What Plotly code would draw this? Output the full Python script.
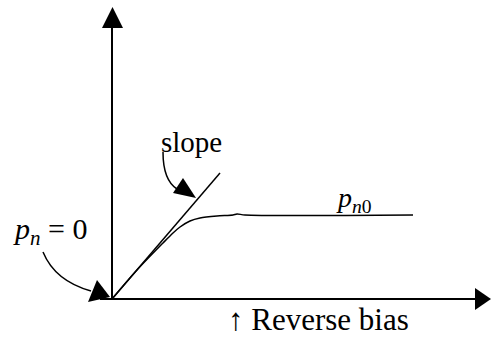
import plotly.graph_objects as go

# Schematic data (units: offsets from origin, y up)
curve_x = [0, 25, 51, 61, 68, 78, 88, 105, 121, 125, 133, 301]
curve_y = [0, 29, 56, 66, 72, 78, 81, 83, 84, 85, 84, 84]
slope_x = [0, 108]
slope_y = [0, 126]

axis_x_end = 363
axis_y_end = 271

labels = ["slope", "<i>p</i><sub><i>n</i></sub> = 0", "<i>p</i><sub><i>n</i>0</sub>", "↑ Reverse bias"]

FONT = "Liberation Serif, Times New Roman, serif"

fig = go.Figure()
fig.add_trace(go.Scatter(x=[-12, axis_x_end], y=[0, 0], mode="lines",
                         line=dict(color="black", width=2), hoverinfo="skip"))
fig.add_trace(go.Scatter(x=[0, 0], y=[0, axis_y_end], mode="lines",
                         line=dict(color="black", width=2), hoverinfo="skip"))
fig.add_trace(go.Scatter(x=slope_x, y=slope_y, mode="lines",
                         line=dict(color="black", width=1.5), hoverinfo="skip"))
fig.add_trace(go.Scatter(x=curve_x, y=curve_y, mode="lines",
                         line=dict(color="black", width=1.5, shape="spline", smoothing=0.8),
                         hoverinfo="skip"))

shapes = [
    # axis arrowheads
    dict(type="path", path="M -10,271 L 11,271 L 0.5,292 Z", fillcolor="black", line=dict(width=0)),
    dict(type="path", path="M 363,11 L 363,-11 L 379,0 Z", fillcolor="black", line=dict(width=0)),
    # slope pointer
    dict(type="path", path="M 51,147 Q 51,119 65,110", line=dict(color="black", width=1.5)),
    dict(type="path", path="M 71,121 L 61,106 L 84,101 Z", fillcolor="black", line=dict(width=0)),
    # p_n = 0 pointer
    dict(type="path", path="M -69,47 Q -57,18 -21,8", line=dict(color="black", width=1.5)),
    dict(type="path", path="M -15,19 L -24,-3 L -2,2 Z", fillcolor="black", line=dict(width=0)),
]
for s in shapes:
    s.update(xref="x", yref="y")

ann = [
    dict(x=79, y=157, text=labels[0], font=dict(size=29)),
    dict(x=-62, y=68, text=labels[1], font=dict(size=30)),
    dict(x=242, y=100, text=labels[2], font=dict(size=28)),
    dict(x=206, y=-20, text=labels[3], font=dict(size=31)),
]
for a in ann:
    a.update(xref="x", yref="y", showarrow=False, xanchor="center", yanchor="middle")
    a["font"].update(family=FONT, color="black")

fig.update_layout(
    width=491, height=345,
    margin=dict(l=0, r=0, t=0, b=0),
    paper_bgcolor="white", plot_bgcolor="white",
    showlegend=False,
    xaxis=dict(range=[-112, 379], visible=False, fixedrange=True),
    yaxis=dict(range=[-46, 299], visible=False, fixedrange=True),
    shapes=shapes, annotations=ann,
)
fig.write_html("out.html", config={"displayModeBar": False},
               post_script="document.body.style.margin='0';document.body.style.overflow='hidden';")
